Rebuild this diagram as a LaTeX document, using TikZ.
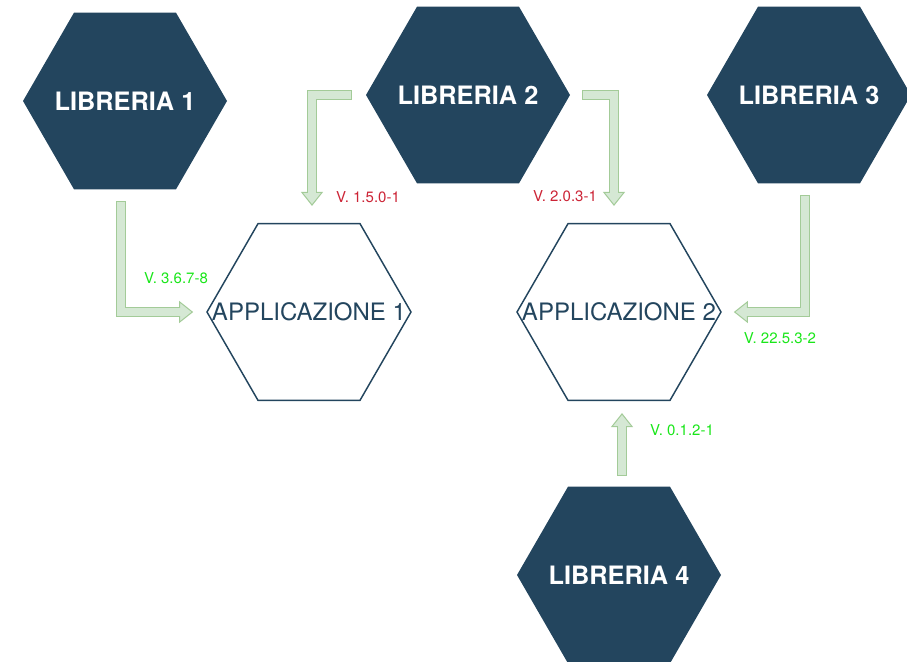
\documentclass[tikz,border=0pt]{standalone}
\usepackage{fontspec}
\setmainfont{TeX Gyre Heros}
\usetikzlibrary{shapes.geometric,arrows.meta,calc}
\definecolor{hexblue}{HTML}{23455E}
\definecolor{arrowfill}{HTML}{D5E8D4}
\definecolor{arrowline}{HTML}{A3CB98}
\definecolor{vgreen}{HTML}{19E619}
\definecolor{vred}{HTML}{CC2436}

\begin{document}
\begin{tikzpicture}[x=0.75pt, y=-0.75pt,
    hex/.style={regular polygon, regular polygon sides=6, minimum size=153pt, inner sep=0pt},
    lib/.style={hex, fill=hexblue, text=white, font=\fontsize{19}{22}\selectfont\bfseries},
    app/.style={hex, draw=hexblue, line width=1.1pt, text=hexblue, font=\fontsize{18}{22}\selectfont},
    ver/.style={font=\fontsize{11.25}{13}\selectfont},
    flex/.style={draw=arrowline, line width=7.5pt, line cap=rect,
      -{Triangle[length=10.5pt, width=16.5pt, line width=0.75pt, fill=arrowfill]},
      postaction={draw=arrowfill, line width=6pt, arrows=-, shorten >=10.5pt}}]
  \useasboundingbox (0,0) rectangle (907,661);

  \node[lib] (lib1) at (125,101) {\makebox[0pt]{LIBRERIA 1}};
  \node[lib] (lib2) at (468,95) {\makebox[0pt]{LIBRERIA 2}};
  \node[lib] (lib3) at (809,95) {\makebox[0pt]{LIBRERIA 3}};
  \node[app] (app1) at (309,312) {\makebox[0pt]{APPLICAZIONE 1}};
  \node[app] (app2) at (619,312) {\makebox[0pt]{APPLICAZIONE 2}};
  \node[lib] (lib4) at (619,575) {\makebox[0pt]{LIBRERIA 4}};

  \draw[flex] ($(lib1.south)+(-4,16)$) |- ($(app1.west)+(-13,0)$);
  \draw[flex] ($(lib2.west)+(-19,0)$) -| ($(app1.north)+(3,-17)$);
  \draw[flex] ($(lib2.east)+(17,0)$) -| ($(app2.north)+(-5,-17)$);
  \draw[flex] ($(lib3.south)+(-4,16)$) |- ($(app2.east)+(12,0)$);
  \draw[flex] ($(lib4.north)+(3,-15)$) -- ($(app2.south)+(3,12)$);

  \node[ver, text=vgreen] (v1) at (176,278) {V. 3.6.7-8};
  \node[ver, text=vred] (v2) at (368,197) {V. 1.5.0-1};
  \node[ver, text=vred] (v3) at (565,196) {V. 2.0.3-1};
  \node[ver, text=vgreen] (v4) at (780,338) {V. 22.5.3-2};
  \node[ver, text=vgreen] (v5) at (682,430) {V. 0.1.2-1};
\end{tikzpicture}
\end{document}
